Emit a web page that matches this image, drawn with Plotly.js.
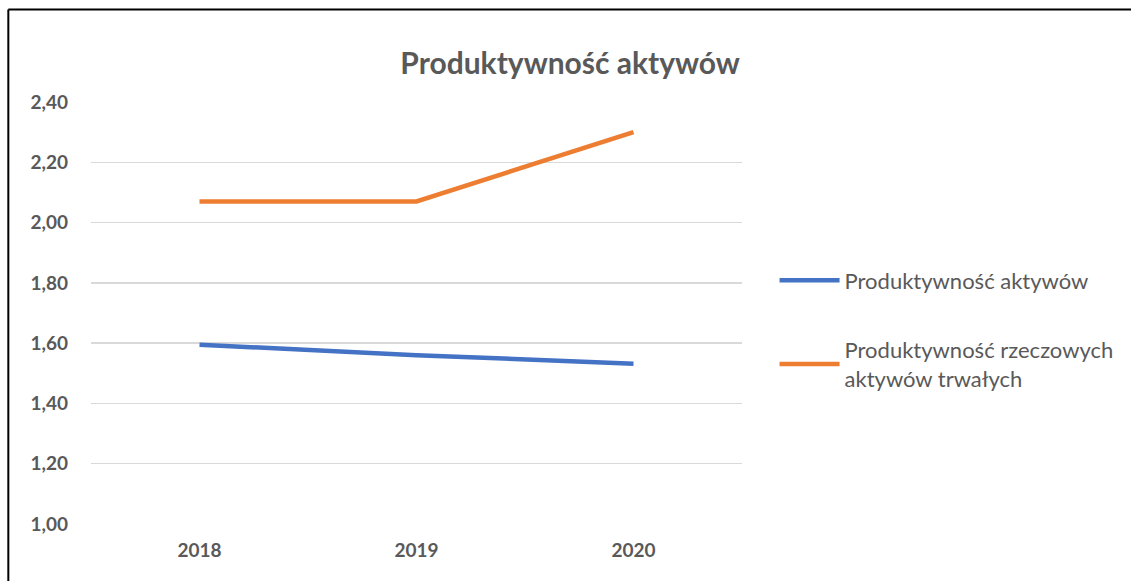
<!DOCTYPE html>
<html><head><meta charset="utf-8">
<script src="https://cdn.plot.ly/plotly-3.0.1.min.js"></script>
<style>html,body{margin:0;padding:0;background:#fff;}#chart{width:1131px;height:581px;}</style>
</head><body><div id="chart"></div>
<script>
const years = ['2018', '2019', '2020'];
const seriesNames = ['Produktywność aktywów', 'Produktywność rzeczowych<br>aktywów trwałych'];
const productivityAssets = [1.595, 1.56, 1.532];
const productivityFixedAssets = [2.07, 2.07, 2.30];
const yTicks = [1.0, 1.2, 1.4, 1.6, 1.8, 2.0, 2.2, 2.4];
const yTickLabels = ['1,00', '1,20', '1,40', '1,60', '1,80', '2,00', '2,20', '2,40'];

const FONT = 'Lato, "Open Sans", sans-serif';
const traces = [
  {x: years, y: productivityAssets, name: seriesNames[0], type: 'scatter', mode: 'lines',
   line: {color: '#4472C4', width: 4.5}, legendgroup: 'a'},
  {x: years, y: productivityFixedAssets, name: seriesNames[1], type: 'scatter', mode: 'lines',
   line: {color: '#ED7D31', width: 4.5}, legendgroup: 'b'}
];
const layout = {
  width: 1131, height: 581,
  margin: {l: 91, r: 385, t: 102, b: 57},
  paper_bgcolor: '#fff', plot_bgcolor: '#fff',
  font: {family: FONT, color: '#595959'},
  title: {text: '<b>Produktywność aktywów</b>', font: {size: 30, color: '#595959', family: FONT},
    xref: 'paper', x: 0.736, xanchor: 'center', yref: 'container', y: 0.891, yanchor: 'middle'},
  xaxis: {type: 'category', range: [-0.5, 2.5], showgrid: false, zeroline: false, showline: false,
    ticks: '', tickfont: {size: 19, color: '#595959', family: FONT, weight: 'bold'}, ticklabelstandoff: 13},
  yaxis: {range: [1.0, 2.4], tickvals: yTicks, ticktext: yTickLabels, showgrid: true,
    gridcolor: '#D9D9D9', gridwidth: 1.5, zeroline: false, showline: false, ticks: '',
    tickfont: {size: 19, color: '#595959', family: FONT, weight: 'bold'}, ticklabelstandoff: 22},
  showlegend: true,
  legend: {x: 1.05, xanchor: 'left', y: 0.627, yanchor: 'top', traceorder: 'grouped', tracegroupgap: 38,
    font: {size: 22, color: '#595959', family: FONT}, itemwidth: 60, bgcolor: 'rgba(0,0,0,0)'},
  shapes: [
    {type: 'line', xref: 'paper', yref: 'paper', x0: -0.127, x1: 1.6, y0: 1.219, y1: 1.219, line: {color: '#000', width: 2}},
    {type: 'line', xref: 'paper', yref: 'paper', x0: -0.127, x1: -0.127, y0: 1.219, y1: -0.2, line: {color: '#000', width: 2}}
  ]
};
Plotly.newPlot('chart', traces, layout, {displayModeBar: false, staticPlot: true});
</script></body></html>
